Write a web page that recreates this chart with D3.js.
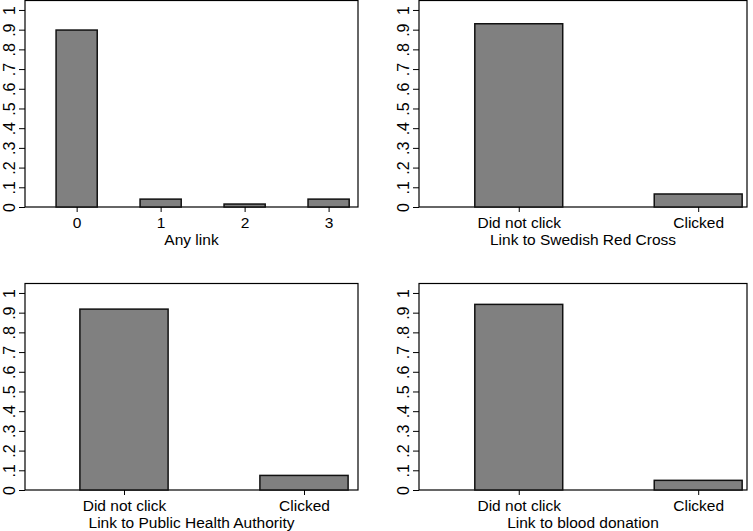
<!DOCTYPE html>
<html>
<head>
<meta charset="utf-8">
<script src="https://cdn.jsdelivr.net/npm/d3@7"></script>
<style>
  html, body { margin: 0; padding: 0; background: #fff; }
  svg { display: block; }
  text { font-family: "Liberation Sans", Arial, sans-serif; fill: #000; }
</style>
</head>
<body>
<svg id="chart" width="753" height="531"></svg>
<script>
// ---- data ----
const anyLinkCategories = ["0", "1", "2", "3"];
const anyLinkValues = [0.898, 0.040, 0.015, 0.040];

const clickCategories = ["Did not click", "Clicked"];
const redCrossValues = [0.930, 0.066];
const publicHealthValues = [0.918, 0.074];
const bloodDonationValues = [0.942, 0.049];

const yTickValues = [0, 0.1, 0.2, 0.3, 0.4, 0.5, 0.6, 0.7, 0.8, 0.9, 1];
const yTickLabels = ["0", ".1", ".2", ".3", ".4", ".5", ".6", ".7", ".8", ".9", "1"];

const panelTitles = ["Any link", "Link to Swedish Red Cross", "Link to Public Health Authority", "Link to blood donation"];

// ---- layout (positions only) ----
const panels = [
  { cats: anyLinkCategories, vals: anyLinkValues, title: panelTitles[0],
    x0: 25, x1: 358, y0: 0.5, y1: 207, xdom: [-0.615, 3.35] },
  { cats: clickCategories, vals: redCrossValues, title: panelTitles[1],
    x0: 419, x1: 747, y0: 0.5, y1: 207, xdom: [-0.556, 1.272] },
  { cats: clickCategories, vals: publicHealthValues, title: panelTitles[2],
    x0: 25, x1: 358, y0: 283.5, y1: 490, xdom: [-0.55, 1.3] },
  { cats: clickCategories, vals: bloodDonationValues, title: panelTitles[3],
    x0: 419, x1: 747, y0: 283.5, y1: 490, xdom: [-0.556, 1.272] }
];

const svg = d3.select("#chart");
const yMax = 1.048;
const fontSize = "15.5px";

panels.forEach(p => {
  const g = svg.append("g");
  const x = d3.scaleLinear().domain(p.xdom).range([p.x0, p.x1]);
  const y = d3.scaleLinear().domain([0, yMax]).range([p.y1, p.y0]);

  // frame
  g.append("rect")
    .attr("x", p.x0).attr("y", p.y0)
    .attr("width", p.x1 - p.x0).attr("height", p.y1 - p.y0)
    .attr("fill", "none").attr("stroke", "#000").attr("stroke-width", 1.2);

  // bars
  g.selectAll("rect.bar").data(p.vals).join("rect")
    .attr("class", "bar")
    .attr("x", (d, i) => x(i - 0.245))
    .attr("width", (d, i) => x(i + 0.245) - x(i - 0.245))
    .attr("y", d => y(d))
    .attr("height", d => y(0) - y(d))
    .attr("fill", "#808080")
    .attr("stroke", "#111")
    .attr("stroke-width", 1.5);

  // y axis
  const yAxis = d3.axisLeft(y).tickValues(yTickValues)
    .tickFormat((d, i) => yTickLabels[i]).tickSize(6).tickSizeOuter(0);
  const ya = g.append("g").attr("transform", `translate(${p.x0},0)`).call(yAxis);
  ya.select(".domain").remove();
  ya.selectAll("line").attr("stroke", "#000").attr("stroke-width", 1);
  ya.selectAll("text")
    .attr("x", 0).attr("dy", 0)
    .attr("transform", "translate(-10,0) rotate(-90)")
    .attr("text-anchor", "middle")
    .style("font-size", "16px")
    .style("font-family", "'Liberation Sans', Arial, sans-serif");

  // x axis
  const xAxis = d3.axisBottom(x).tickValues(p.cats.map((c, i) => i))
    .tickFormat((d, i) => p.cats[i]).tickSize(5).tickSizeOuter(0);
  const xa = g.append("g").attr("transform", `translate(0,${p.y1})`).call(xAxis);
  xa.select(".domain").remove();
  xa.selectAll("line").attr("stroke", "#000").attr("stroke-width", 1);
  xa.selectAll("text")
    .attr("y", 21).attr("dy", 0)
    .style("font-size", fontSize)
    .style("font-family", "'Liberation Sans', Arial, sans-serif");

  // axis title
  g.append("text")
    .attr("x", (p.x0 + p.x1) / 2)
    .attr("y", p.y1 + 38)
    .attr("text-anchor", "middle")
    .style("font-size", fontSize)
    .text(p.title);
});
</script>
</body>
</html>
